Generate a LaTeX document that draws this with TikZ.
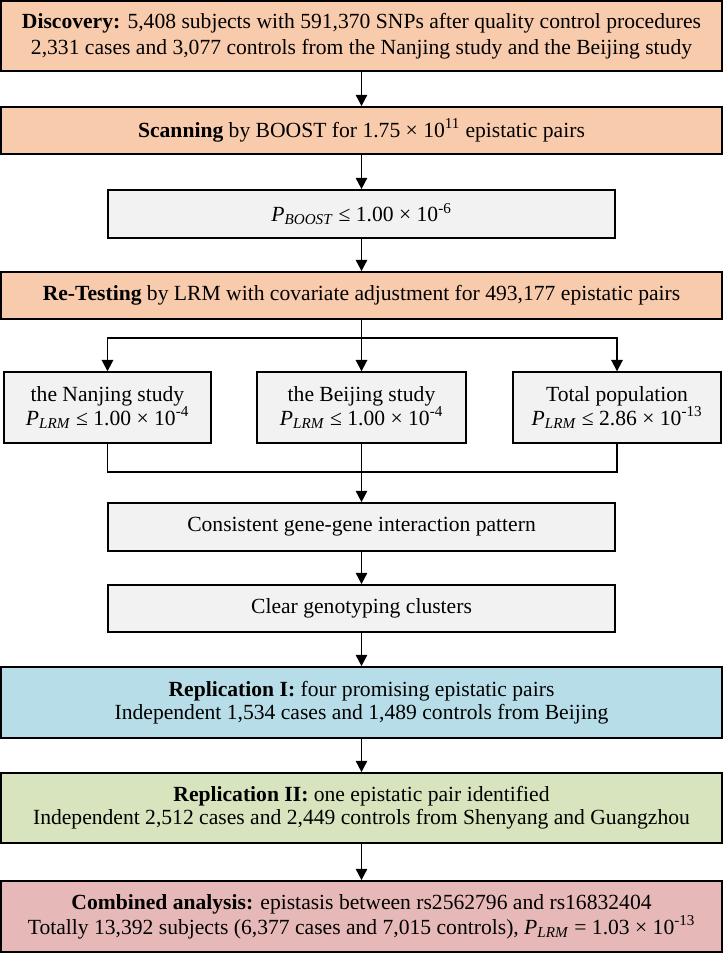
\documentclass[tikz,border=0pt]{standalone}
\usepackage{fontspec}
\setmainfont{Liberation Serif}
\usetikzlibrary{arrows.meta}
\definecolor{peach}{HTML}{F8CBAD}
\definecolor{greybox}{HTML}{F2F2F2}
\definecolor{bluebox}{HTML}{B7DEE8}
\definecolor{greenbox}{HTML}{D7E4BD}
\definecolor{pinkbox}{HTML}{E6B9B8}
\newcommand{\Plrm}{\textit{P}\textsubscript{\textit{LRM}}}
\newcommand{\Pboost}{\textit{P}\textsubscript{\textit{BOOST}}}
\begin{document}
\begin{tikzpicture}[x=0.75pt,y=-0.75pt,
  box/.style={draw=black,line width=1.3pt,align=center,inner sep=0pt,
    font=\fontsize{16.2}{19.5}\selectfont},
  wide/.style={box,minimum width=540.75pt},
  mid/.style={box,minimum width=380.25pt,minimum height=36pt,fill=greybox},
  small/.style={box,minimum height=53pt,fill=greybox,font=\fontsize{16.2}{18}\selectfont},
  conn/.style={line width=1.4pt,draw=black},
  arr/.style={conn,-{Triangle[length=8.5pt,width=8.5pt]}}]
\useasboundingbox (0,0) rectangle (724,953);
\node[wide,minimum height=52.5pt,fill=peach] (disc) at (361.5,36)
  {\textbf{Discovery:} 5,408 subjects with 591,370 SNPs after quality control procedures\\
   2,331 cases and 3,077 controls from the Nanjing study and the Beijing study};
\node[wide,minimum height=35.25pt,fill=peach] (scan) at (361.5,130.5)
  {\textbf{Scanning} by BOOST for 1.75 × 10\textsuperscript{11} epistatic pairs};
\node[mid] (pboost) at (361.5,214) {\Pboost\ ≤ 1.00 × 10\textsuperscript{-6}};
\node[wide,minimum height=35.25pt,fill=peach] (retest) at (361.5,295.5)
  {\textbf{Re-Testing} by LRM with covariate adjustment for 493,177 epistatic pairs};
\node[small,minimum width=155.25pt] (nj) at (107.5,407.5)
  {the Nanjing study\\ \Plrm\ ≤ 1.00 × 10\textsuperscript{-4}};
\node[small,minimum width=156.75pt] (bj) at (361.5,407.5)
  {the Beijing study\\ \Plrm\ ≤ 1.00 × 10\textsuperscript{-4}};
\node[small,minimum width=156pt] (tot) at (617,407.5)
  {Total population\\ \Plrm\ ≤ 2.86 × 10\textsuperscript{-13}};
\node[mid,minimum height=36pt] (cons) at (361.5,527) {Consistent gene-gene interaction pattern};
\node[mid,minimum height=35.25pt] (clear) at (361.5,608.5) {Clear genotyping clusters};
\node[wide,minimum height=53.25pt,fill=bluebox,font=\fontsize{16.2}{17.5}\selectfont] (rep1) at (361.5,702.5)
  {\textbf{Replication I:} four promising epistatic pairs\\
   Independent 1,534 cases and 1,489 controls from Beijing};
\node[wide,minimum height=52.5pt,fill=greenbox,font=\fontsize{16.2}{17.5}\selectfont] (rep2) at (361.5,808)
  {\textbf{Replication II:} one epistatic pair identified\\
   Independent 2,512 cases and 2,449 controls from Shenyang and Guangzhou};
\node[wide,minimum height=53.25pt,fill=pinkbox,font=\fontsize{16.2}{19}\selectfont] (comb) at (361.5,916.5)
  {\textbf{Combined analysis:} epistasis between rs2562796 and rs16832404\\
   Totally 13,392 subjects (6,377 cases and 7,015 controls), \Plrm\ = 1.03 × 10\textsuperscript{-13}};
\coordinate (split) at (361.5,338);
\coordinate (join) at (361.5,472);
\draw[arr] (disc) -- (scan);
\draw[arr] (scan) -- (pboost);
\draw[arr] (pboost) -- (retest);
\draw[conn] (retest.south) -- (split);
\draw[arr] (split) -| (nj.north);
\draw[arr] (split) -- (bj.north);
\draw[arr] (split) -| (tot.north);
\draw[conn] (nj.south) |- (join);
\draw[conn] (tot.south) |- (join);
\draw[conn] (bj.south) -- (join);
\draw[arr] (join) -- (cons.north);
\draw[arr] (cons) -- (clear);
\draw[arr] (clear) -- (rep1);
\draw[arr] (rep1) -- (rep2);
\draw[arr] (rep2) -- (comb);
\end{tikzpicture}
\end{document}
